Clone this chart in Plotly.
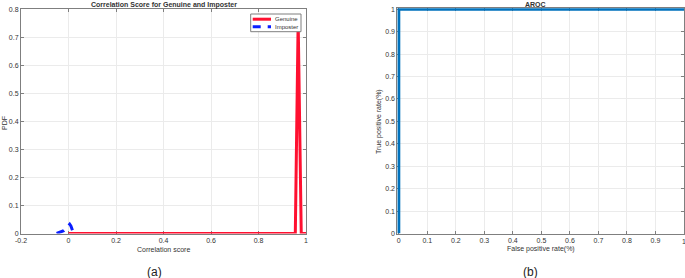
import plotly.graph_objects as go

# Panel (a): PDF of correlation scores
genuine_x = [0.0, 0.2, 0.4, 0.6, 0.8, 0.955, 0.967, 0.98, 1.0]
genuine_y = [0.0, 0.0, 0.0, 0.0, 0.0, 0.0, 0.76, 0.0, 0.0]
imposter_x = [-0.05, -0.04, -0.03, -0.02, -0.01, -0.005, 0.0, 0.005, 0.01, 0.015, 0.02]
imposter_y = [0.0, 0.003, 0.006, 0.01, 0.018, 0.024, 0.031, 0.033, 0.027, 0.016, 0.004]

# Panel (b): ROC curve
fpr = [0.0, 0.0, 1.0]
tpr = [0.0, 1.0, 1.0]

x_ticks_a = [-0.2, 0, 0.2, 0.4, 0.6, 0.8, 1]
x_tick_labels_a = ["-0.2", "0", "0.2", "0.4", "0.6", "0.8", "1"]
y_ticks_a = [0, 0.1, 0.2, 0.3, 0.4, 0.5, 0.6, 0.7, 0.8]
y_tick_labels_a = ["0", "0.1", "0.2", "0.3", "0.4", "0.5", "0.6", "0.7", "0.8"]
ticks_b = [0, 0.1, 0.2, 0.3, 0.4, 0.5, 0.6, 0.7, 0.8, 0.9, 1]
tick_labels_b = ["0", "0.1", "0.2", "0.3", "0.4", "0.5", "0.6", "0.7", "0.8", "0.9", "1"]

W, H = 685, 278
FONT = "Liberation Sans, Arial, sans-serif"
TXT = "#333333"
AX = "#7f7f7f"
GRID = "#ebebeb"
RED = "#ff1030"
BLUE = "#0a1eff"
DASH = "8px,7px"

fig = go.Figure()
fig.add_trace(go.Scatter(x=genuine_x, y=genuine_y, mode="lines", name="Genuine",
                         line=dict(color=RED, width=3), xaxis="x", yaxis="y"))
fig.add_trace(go.Scatter(x=imposter_x, y=imposter_y, mode="lines", name="Imposter",
                         line=dict(color=BLUE, width=3, dash=DASH), xaxis="x", yaxis="y"))
fig.add_trace(go.Scatter(x=fpr, y=tpr, mode="lines",
                         line=dict(color="#0072BD", width=3), xaxis="x2", yaxis="y2"))

def px(v):
    return v / W

def py(v):
    return 1 - v / H

common = dict(showline=True, linecolor=AX, linewidth=1, mirror="ticks", ticks="inside",
              ticklen=3, tickcolor=AX, showgrid=True, gridcolor=GRID, gridwidth=1,
              zeroline=False, automargin=False, layer="below traces",
              tickfont=dict(size=7, color=TXT, family=FONT), fixedrange=True)

# right panel: 0 at x=398.8px, 1 at 684px; y: 0 at 233.5px, 1 at 9.3px
sx = (684 - 398.8)
sy = (233.5 - 9.3)
xpad = 0.005
ypad = 0.005

fig.update_layout(
    width=W, height=H, autosize=False,
    margin=dict(l=0, r=0, t=0, b=0, pad=0),
    paper_bgcolor="white", plot_bgcolor="white",
    showlegend=False,
    xaxis=dict(domain=[px(21), px(306)], range=[-0.2, 1], tickvals=x_ticks_a,
               ticktext=x_tick_labels_a, anchor="y", **common),
    yaxis=dict(domain=[py(233.5), py(9.3)], range=[0, 0.8], tickvals=y_ticks_a,
               ticktext=y_tick_labels_a, anchor="x", **common),
    xaxis2=dict(domain=[px(398.8 - xpad * sx), px(684)], range=[-xpad, 1], tickvals=ticks_b,
                ticktext=tick_labels_b, anchor="y2", **common),
    yaxis2=dict(domain=[py(233.5), py(9.3 - ypad * sy)], range=[0, 1 + ypad], tickvals=ticks_b,
                ticktext=tick_labels_b, anchor="x2", **common),
)

# Compact legend box (drawn above the data)
fig.add_shape(type="rect", xref="paper", yref="paper", x0=px(250.7), x1=px(301),
              y0=py(31.7), y1=py(14), fillcolor="white", line=dict(color=AX, width=1), layer="above")
fig.add_shape(type="line", xref="paper", yref="paper", x0=px(252.7), x1=px(271),
              y0=py(19.2), y1=py(19.2), line=dict(color=RED, width=3), layer="above")
fig.add_shape(type="line", xref="paper", yref="paper", x0=px(252.7), x1=px(271),
              y0=py(26.7), y1=py(26.7), line=dict(color=BLUE, width=3, dash=DASH), layer="above")

ann = [
    dict(text="<b>Correlation Score for Genuine and Imposter</b>", x=px(163.5), y=py(4.5), size=7),
    dict(text="<b>AROC</b>", x=px(535), y=py(4.5), size=7),
    dict(text="Correlation score", x=px(163.5), y=py(249), size=7),
    dict(text="False positive rate(%)", x=px(541), y=py(249), size=7),
    dict(text="(a)", x=px(154), y=py(271.5), size=12, color="#222222"),
    dict(text="(b)", x=px(530), y=py(271.5), size=12, color="#222222"),
]
for a in ann:
    fig.add_annotation(text=a["text"], x=a["x"], y=a["y"], xref="paper", yref="paper",
                       xanchor="center", yanchor="middle", showarrow=False,
                       font=dict(size=a["size"], color=a.get("color", TXT), family=FONT))

# last tick label of the right panel sits on the page edge
fig.add_annotation(text=tick_labels_b[-1], x=ticks_b[-1], y=0, xref="x2", yref="y2",
                   xanchor="center", yanchor="top", yshift=-3, showarrow=False,
                   font=dict(size=7, color=TXT, family=FONT))

for name, yy in [("Genuine", 19.2), ("Imposter", 26.7)]:
    fig.add_annotation(text=name, x=px(272.5), y=py(yy), xref="paper", yref="paper",
                       xanchor="left", yanchor="middle", showarrow=False,
                       font=dict(size=6, color=TXT, family=FONT))

fig.add_annotation(text="PDF", x=px(4), y=py(123), xref="paper", yref="paper", textangle=-90,
                   xanchor="center", yanchor="middle", showarrow=False,
                   font=dict(size=7, color=TXT, family=FONT))
fig.add_annotation(text="True positive rate(%)", x=px(379), y=py(121), xref="paper", yref="paper",
                   textangle=-90, xanchor="center", yanchor="middle", showarrow=False,
                   font=dict(size=7, color=TXT, family=FONT))

fig.write_html("out.html", config={"responsive": False, "displayModeBar": False},
               post_script="document.body.style.margin='0px';document.body.style.overflow='hidden';")
